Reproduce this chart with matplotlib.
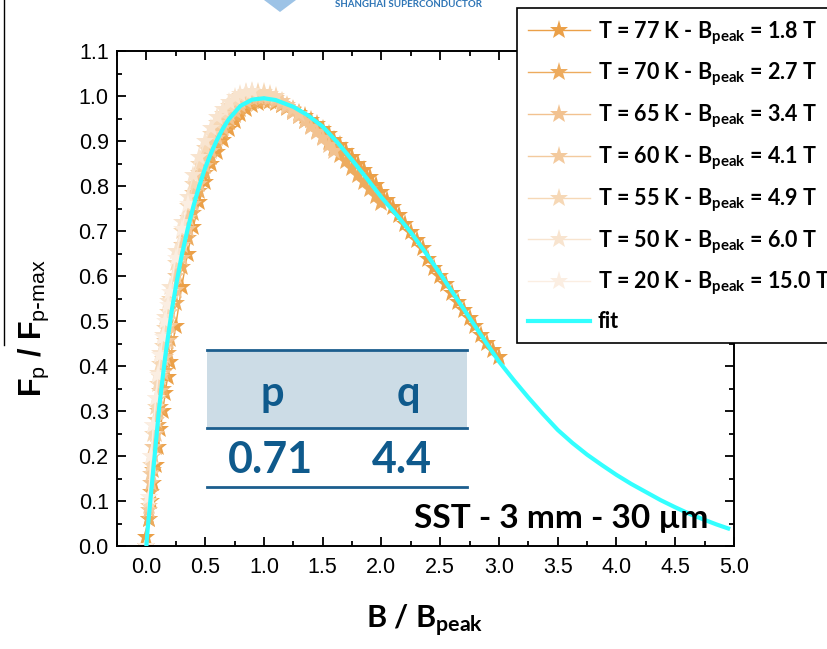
import matplotlib
matplotlib.use('Agg')
import matplotlib.pyplot as plt
from matplotlib.ticker import MultipleLocator, FormatStrFormatter
from matplotlib.patches import Rectangle, Polygon
from matplotlib.lines import Line2D

# ---- data ----
b_grid = [0.00, 0.02, 0.04, 0.06, 0.08, 0.10, 0.12, 0.14, 0.16, 0.18, 0.20,
          0.25, 0.30, 0.35, 0.40, 0.45, 0.50, 0.55, 0.60, 0.65, 0.70, 0.75,
          0.80, 0.85, 0.90, 0.95, 1.00, 1.05, 1.10, 1.15, 1.20, 1.25, 1.30,
          1.35, 1.40, 1.45, 1.50, 1.55, 1.60, 1.65, 1.70, 1.75, 1.80, 1.85,
          1.90, 1.95, 2.00, 2.05, 2.10, 2.15, 2.20, 2.25, 2.30, 2.35, 2.40,
          2.45, 2.50, 2.55, 2.60, 2.65, 2.70, 2.75, 2.80, 2.85, 2.90, 2.95,
          3.00]

y_77K = [0.02, 0.06, 0.10, 0.14, 0.18, 0.22, 0.26, 0.30, 0.34, 0.375, 0.41,
         0.49, 0.575, 0.65, 0.71, 0.765, 0.81, 0.848, 0.876, 0.902, 0.926, 0.945,
         0.960, 0.972, 0.980, 0.985, 0.988, 0.988, 0.985, 0.981, 0.976, 0.970, 0.962,
         0.955, 0.946, 0.937, 0.927, 0.915, 0.903, 0.891, 0.878, 0.864, 0.850, 0.835,
         0.820, 0.803, 0.786, 0.770, 0.753, 0.735, 0.716, 0.697, 0.680, 0.662, 0.638,
         0.618, 0.600, 0.582, 0.562, 0.543, 0.525, 0.506, 0.488, 0.470, 0.452, 0.436,
         0.420]
y_70K = [0.00, 0.06, 0.12, 0.17, 0.22, 0.27, 0.31, 0.35, 0.39, 0.43, 0.46,
         0.54, 0.62, 0.685, 0.74, 0.79, 0.83, 0.865, 0.895, 0.92, 0.942, 0.958,
         0.972, 0.982, 0.988, 0.991, 0.992, 0.990, 0.986, 0.980, 0.973, 0.964, 0.955,
         0.945, 0.934, 0.922, 0.910, 0.897, 0.884, 0.870, 0.855, 0.840, 0.825, 0.810,
         0.794, 0.778, 0.762]
y_65K = [0.00, 0.08, 0.14, 0.20, 0.25, 0.30, 0.345, 0.385, 0.42, 0.455, 0.49,
         0.57, 0.64, 0.705, 0.76, 0.805, 0.845, 0.878, 0.907, 0.93, 0.951, 0.967,
         0.980, 0.989, 0.995, 0.998, 0.998, 0.995, 0.990, 0.983, 0.975, 0.965, 0.955,
         0.944, 0.932, 0.919, 0.906, 0.892, 0.878]
y_60K = [0.00, 0.09, 0.16, 0.22, 0.28, 0.33, 0.375, 0.415, 0.455, 0.49, 0.52,
         0.60, 0.67, 0.73, 0.785, 0.83, 0.865, 0.895, 0.922, 0.945, 0.963, 0.977,
         0.989, 0.997, 1.002, 1.004, 1.003, 1.000, 0.995, 0.988, 0.980, 0.971, 0.961]
y_55K = [0.00, 0.10, 0.18, 0.25, 0.31, 0.36, 0.405, 0.445, 0.485, 0.52, 0.55,
         0.63, 0.70, 0.755, 0.805, 0.85, 0.885, 0.915, 0.94, 0.96, 0.977, 0.99,
         0.999, 1.006, 1.009, 1.010, 1.008, 1.004, 0.999]
y_50K = [0.00, 0.11, 0.20, 0.27, 0.33, 0.385, 0.43, 0.47, 0.51, 0.545, 0.575,
         0.655, 0.72, 0.775, 0.825, 0.865, 0.90, 0.93, 0.953, 0.972, 0.986, 0.997,
         1.005, 1.010, 1.012]
y_20K = [0.00, 0.11, 0.20, 0.27, 0.33, 0.38, 0.425, 0.465, 0.50, 0.535, 0.565,
         0.64, 0.705, 0.76]

fit_x = [0.0, 0.005, 0.01, 0.02, 0.03, 0.05, 0.07, 0.09, 0.11, 0.135, 0.16, 0.19,
         0.22, 0.26, 0.30, 0.35, 0.40, 0.45, 0.50, 0.55, 0.60, 0.65, 0.70, 0.80,
         0.90, 1.00, 1.10, 1.25, 1.375, 1.50, 1.625, 1.75, 1.875, 2.00, 2.125, 2.25,
         2.375, 2.50, 2.625, 2.75, 2.875, 3.00, 3.125, 3.25, 3.375, 3.50, 3.625, 3.75,
         3.875, 4.00, 4.125, 4.25, 4.375, 4.50, 4.625, 4.75, 4.85, 4.95]
fit_y = [0.0, 0.02, 0.035, 0.063, 0.09, 0.145, 0.20, 0.255, 0.31, 0.366, 0.42, 0.476,
         0.53, 0.59, 0.645, 0.703, 0.755, 0.80, 0.84, 0.873, 0.902, 0.927, 0.948, 0.978,
         0.992, 0.995, 0.991, 0.976, 0.957, 0.932, 0.897, 0.858, 0.817, 0.775, 0.737, 0.697,
         0.652, 0.605, 0.556, 0.507, 0.458, 0.41, 0.369, 0.33, 0.293, 0.258, 0.229, 0.203,
         0.18, 0.158, 0.138, 0.12, 0.102, 0.086, 0.071, 0.058, 0.048, 0.039]

labels = [r'T = 77 K - B$_{\mathrm{peak}}$ = 1.8 T',
          r'T = 70 K - B$_{\mathrm{peak}}$ = 2.7 T',
          r'T = 65 K - B$_{\mathrm{peak}}$ = 3.4 T',
          r'T = 60 K - B$_{\mathrm{peak}}$ = 4.1 T',
          r'T = 55 K - B$_{\mathrm{peak}}$ = 4.9 T',
          r'T = 50 K - B$_{\mathrm{peak}}$ = 6.0 T',
          r'T = 20 K - B$_{\mathrm{peak}}$ = 15.0 T']
curves = [y_77K, y_70K, y_65K, y_60K, y_55K, y_50K, y_20K]
colors = ['#EBA048', '#EDAB5E', '#F2C290', '#F3CA9E', '#F6D8B6', '#F8E4CF', '#FBEEE2']

fit_p = '0.71'
fit_q = '4.4'

# ---- style ----
plt.rcParams['font.family'] = ['Lato', 'DejaVu Sans']
plt.rcParams['mathtext.fontset'] = 'custom'
plt.rcParams['mathtext.rm'] = 'Lato:bold'
plt.rcParams['mathtext.bf'] = 'Lato:bold'
plt.rcParams['mathtext.it'] = 'Lato:bold'
plt.rcParams['mathtext.sf'] = 'Liberation Sans'

fig = plt.figure(figsize=(8.28, 6.49), dpi=100)
ax = fig.add_axes([0.1413, 0.1587, 0.7452, 0.7627])

handles = []
for y, lab, c in zip(curves, labels, colors):
    n = len(y)
    h, = ax.plot(b_grid[:n], y, '-', marker='*', color=c, lw=1, ms=14, mew=0, label=lab)
    handles.append(h)
hf, = ax.plot(fit_x, fit_y, color='#33FFFF', lw=3, label='fit', zorder=5)
handles.append(hf)

ax.set_xlim(-0.25, 5.0)
ax.set_ylim(0, 1.1)
ax.xaxis.set_major_locator(MultipleLocator(0.5))
ax.xaxis.set_minor_locator(MultipleLocator(0.25))
ax.yaxis.set_major_locator(MultipleLocator(0.1))
ax.yaxis.set_minor_locator(MultipleLocator(0.05))
ax.xaxis.set_major_formatter(FormatStrFormatter('%.1f'))
ax.yaxis.set_major_formatter(FormatStrFormatter('%.1f'))
ax.tick_params(which='both', direction='in', top=True, right=True, width=1.3,
               labelsize=15.5, labelfontfamily='Liberation Sans')
ax.tick_params(which='major', length=6.5)
ax.tick_params(which='minor', length=3.5)
ax.tick_params(axis='x', pad=8)
ax.tick_params(axis='y', pad=6)
for s in ax.spines.values():
    s.set_linewidth(1.4)

# axis labels
fig.text(0.513, 0.032, r'B / B$_{\mathrm{peak}}$', fontsize=22, fontweight='bold',
         ha='center', va='baseline')
fig.text(0.040, 0.495, r'F$_{\mathsf{p}}$ / F$_{\mathsf{p\text{-}max}}$', fontsize=22,
         fontweight='bold', family='Liberation Sans', rotation=90, ha='center', va='center')

# p/q table
tab_col = '#1C5E8E'
ax.add_patch(Rectangle((0.146, 0.238), 0.421, 0.158, transform=ax.transAxes,
                       facecolor='#CCDCE6', edgecolor='none', zorder=3))
for yy in (0.396, 0.238, 0.119):
    ax.add_line(Line2D([0.146, 0.567], [yy, yy], transform=ax.transAxes,
                       color=tab_col, lw=2, zorder=4))
ax.text(0.251, 0.283, 'p', transform=ax.transAxes, fontsize=30, fontweight='bold',
        color='#0F5A8C', ha='center', va='baseline', zorder=6)
ax.text(0.472, 0.283, 'q', transform=ax.transAxes, fontsize=30, fontweight='bold',
        color='#0F5A8C', ha='center', va='baseline', zorder=6)
ax.text(0.248, 0.147, fit_p, transform=ax.transAxes, fontsize=31, fontweight='bold',
        color='#0F5A8C', ha='center', va='baseline', zorder=6)
ax.text(0.462, 0.147, fit_q, transform=ax.transAxes, fontsize=31, fontweight='bold',
        color='#0F5A8C', ha='center', va='baseline', zorder=6)

ax.text(0.958, 0.037, 'SST - 3 mm - 30 \u00b5m', transform=ax.transAxes, fontsize=24,
        fontweight='bold', ha='right', va='baseline', zorder=6)

leg = ax.legend(handles=handles, loc='upper left', bbox_to_anchor=(0.6244, 0.9877),
                bbox_transform=fig.transFigure, prop={'weight': 'bold', 'size': 15.5},
                frameon=True, fancybox=False, framealpha=1, edgecolor='black',
                borderaxespad=0, handlelength=2.9, handletextpad=0.35,
                labelspacing=0.65, borderpad=0.5)
leg.get_frame().set_linewidth(1.2)
leg.set_zorder(10)

# bits of the surrounding slide
fig.add_artist(Line2D([4 / 828, 4 / 828], [1, 1 - 345 / 649], transform=fig.transFigure,
                      color='black', lw=1))
fig.add_artist(Polygon([[264 / 828, 1], [296 / 828, 1], [280 / 828, 1 - 12 / 649]],
                       closed=True, transform=fig.transFigure, facecolor='#9DC3E6',
                       edgecolor='none'))
fig.text(335 / 828, 1.0, 'SHANGHAI SUPERCONDUCTOR', fontsize=7, fontweight='bold',
         color='#2E75B6', ha='left', va='top')

fig.savefig('out.png', dpi=100)
